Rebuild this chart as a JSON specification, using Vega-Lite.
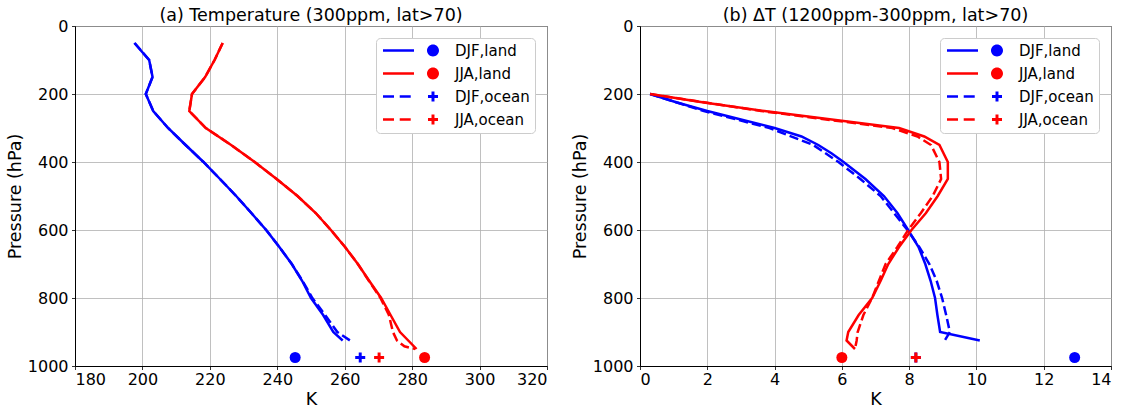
{
  "$schema": "https://vega.github.io/schema/vega-lite/v6.json",
  "padding": {"left": 5, "top": 6, "right": 5, "bottom": 0},
  "bounds": "flush",
  "spacing": 93,
  "resolve": {"scale": {"color": "independent", "shape": "independent"}, "legend": {"color": "independent", "shape": "independent"}},
  "config": {
    "font": "DejaVu Sans",
    "view": {"stroke": "black", "strokeWidth": 1},
    "axis": {"grid": true, "gridColor": "#b0b0b0", "gridWidth": 0.8, "domainColor": "black", "tickColor": "black", "tickSize": 3.5, "tickWidth": 0.8, "labelFontSize": 16, "labelColor": "black", "titleFontSize": 17.5, "titleFontWeight": "normal", "titleColor": "black", "labelPadding": 3.5, "labelFont": "DejaVu Sans", "titleFont": "DejaVu Sans", "titlePadding": 3, "format": "d"},
    "axisX": {"labelPadding": 2, "titlePadding": 3},
    "title": {"fontSize": 17.5, "fontWeight": "normal", "font": "DejaVu Sans", "color": "black", "offset": -6},
    "line": {"strokeWidth": 2.5},
    "point": {"filled": true, "opacity": 1, "size": 121},
    "legend": {"orient": "top-right", "offset": 12, "padding": 5, "fillColor": "white", "strokeColor": "#cccccc", "cornerRadius": 4, "labelFontSize": 15, "labelColor": "black", "labelFont": "DejaVu Sans", "labelOffset": 59, "rowPadding": 7, "symbolSize": 121, "symbolStrokeWidth": 0, "symbolOpacity": 1}
  },
  "datasets": {
    "profiles": [
      {"panel":"a","series":"DJF,land","p":50,"value":197.6},{"panel":"a","series":"DJF,land","p":100,"value":202},{"panel":"a","series":"DJF,land","p":150,"value":203},{"panel":"a","series":"DJF,land","p":200,"value":201},{"panel":"a","series":"DJF,land","p":250,"value":203.2},{"panel":"a","series":"DJF,land","p":300,"value":207.6},{"panel":"a","series":"DJF,land","p":350,"value":212.8},{"panel":"a","series":"DJF,land","p":400,"value":218.1},{"panel":"a","series":"DJF,land","p":450,"value":223},{"panel":"a","series":"DJF,land","p":500,"value":227.8},{"panel":"a","series":"DJF,land","p":550,"value":232.3},{"panel":"a","series":"DJF,land","p":600,"value":236.7},{"panel":"a","series":"DJF,land","p":650,"value":240.6},{"panel":"a","series":"DJF,land","p":700,"value":244.3},{"panel":"a","series":"DJF,land","p":750,"value":247.4},{"panel":"a","series":"DJF,land","p":800,"value":250},{"panel":"a","series":"DJF,land","p":850,"value":253.6},{"panel":"a","series":"DJF,land","p":900,"value":256.6},{"panel":"a","series":"DJF,land","p":925,"value":259.4},
      {"panel":"a","series":"JJA,land","p":50,"value":223.8},{"panel":"a","series":"JJA,land","p":100,"value":221.4},{"panel":"a","series":"JJA,land","p":150,"value":218.6},{"panel":"a","series":"JJA,land","p":200,"value":214.7},{"panel":"a","series":"JJA,land","p":250,"value":213.9},{"panel":"a","series":"JJA,land","p":300,"value":218.8},{"panel":"a","series":"JJA,land","p":350,"value":226.3},{"panel":"a","series":"JJA,land","p":400,"value":233.3},{"panel":"a","series":"JJA,land","p":450,"value":239.8},{"panel":"a","series":"JJA,land","p":500,"value":246},{"panel":"a","series":"JJA,land","p":550,"value":251.4},{"panel":"a","series":"JJA,land","p":600,"value":255.9},{"panel":"a","series":"JJA,land","p":650,"value":260.1},{"panel":"a","series":"JJA,land","p":700,"value":263.9},{"panel":"a","series":"JJA,land","p":750,"value":267.3},{"panel":"a","series":"JJA,land","p":800,"value":270.8},{"panel":"a","series":"JJA,land","p":850,"value":273.6},{"panel":"a","series":"JJA,land","p":900,"value":276.4},{"panel":"a","series":"JJA,land","p":950,"value":281.3},
      {"panel":"a","series":"DJF,ocean","p":50,"value":197.7},{"panel":"a","series":"DJF,ocean","p":100,"value":202},{"panel":"a","series":"DJF,ocean","p":150,"value":203},{"panel":"a","series":"DJF,ocean","p":200,"value":201},{"panel":"a","series":"DJF,ocean","p":250,"value":203.2},{"panel":"a","series":"DJF,ocean","p":300,"value":207.6},{"panel":"a","series":"DJF,ocean","p":350,"value":212.8},{"panel":"a","series":"DJF,ocean","p":400,"value":218.1},{"panel":"a","series":"DJF,ocean","p":450,"value":223},{"panel":"a","series":"DJF,ocean","p":500,"value":227.8},{"panel":"a","series":"DJF,ocean","p":550,"value":232.3},{"panel":"a","series":"DJF,ocean","p":600,"value":236.7},{"panel":"a","series":"DJF,ocean","p":650,"value":240.6},{"panel":"a","series":"DJF,ocean","p":700,"value":244.3},{"panel":"a","series":"DJF,ocean","p":750,"value":247.5},{"panel":"a","series":"DJF,ocean","p":800,"value":250.4},{"panel":"a","series":"DJF,ocean","p":850,"value":254.2},{"panel":"a","series":"DJF,ocean","p":900,"value":257.8},{"panel":"a","series":"DJF,ocean","p":925,"value":261.6},
      {"panel":"a","series":"JJA,ocean","p":50,"value":223.8},{"panel":"a","series":"JJA,ocean","p":100,"value":221.4},{"panel":"a","series":"JJA,ocean","p":150,"value":218.6},{"panel":"a","series":"JJA,ocean","p":200,"value":214.7},{"panel":"a","series":"JJA,ocean","p":250,"value":213.9},{"panel":"a","series":"JJA,ocean","p":300,"value":218.8},{"panel":"a","series":"JJA,ocean","p":350,"value":226.3},{"panel":"a","series":"JJA,ocean","p":400,"value":233.3},{"panel":"a","series":"JJA,ocean","p":450,"value":239.8},{"panel":"a","series":"JJA,ocean","p":500,"value":246},{"panel":"a","series":"JJA,ocean","p":550,"value":251.4},{"panel":"a","series":"JJA,ocean","p":600,"value":255.9},{"panel":"a","series":"JJA,ocean","p":650,"value":260.1},{"panel":"a","series":"JJA,ocean","p":700,"value":263.9},{"panel":"a","series":"JJA,ocean","p":750,"value":267.2},{"panel":"a","series":"JJA,ocean","p":800,"value":270.6},{"panel":"a","series":"JJA,ocean","p":850,"value":273.1},{"panel":"a","series":"JJA,ocean","p":900,"value":274.3},{"panel":"a","series":"JJA,ocean","p":925,"value":275.5},{"panel":"a","series":"JJA,ocean","p":942,"value":277.7},{"panel":"a","series":"JJA,ocean","p":950,"value":280.9},
      {"panel":"b","series":"DJF,land","p":200,"value":0.3},{"panel":"b","series":"DJF,land","p":225,"value":1.1},{"panel":"b","series":"DJF,land","p":250,"value":2.0},{"panel":"b","series":"DJF,land","p":275,"value":3.0},{"panel":"b","series":"DJF,land","p":300,"value":4.0},{"panel":"b","series":"DJF,land","p":325,"value":4.8},{"panel":"b","series":"DJF,land","p":350,"value":5.3},{"panel":"b","series":"DJF,land","p":375,"value":5.7},{"panel":"b","series":"DJF,land","p":400,"value":6.05},{"panel":"b","series":"DJF,land","p":450,"value":6.7},{"panel":"b","series":"DJF,land","p":500,"value":7.25},{"panel":"b","series":"DJF,land","p":550,"value":7.65},{"panel":"b","series":"DJF,land","p":600,"value":7.97},{"panel":"b","series":"DJF,land","p":650,"value":8.28},{"panel":"b","series":"DJF,land","p":700,"value":8.48},{"panel":"b","series":"DJF,land","p":750,"value":8.64},{"panel":"b","series":"DJF,land","p":800,"value":8.77},{"panel":"b","series":"DJF,land","p":850,"value":8.84},{"panel":"b","series":"DJF,land","p":900,"value":8.92},{"panel":"b","series":"DJF,land","p":925,"value":10.1},
      {"panel":"b","series":"JJA,land","p":200,"value":0.3},{"panel":"b","series":"JJA,land","p":225,"value":1.9},{"panel":"b","series":"JJA,land","p":250,"value":3.7},{"panel":"b","series":"JJA,land","p":275,"value":5.7},{"panel":"b","series":"JJA,land","p":300,"value":7.7},{"panel":"b","series":"JJA,land","p":325,"value":8.45},{"panel":"b","series":"JJA,land","p":350,"value":8.9},{"panel":"b","series":"JJA,land","p":400,"value":9.15},{"panel":"b","series":"JJA,land","p":450,"value":9.15},{"panel":"b","series":"JJA,land","p":500,"value":8.85},{"panel":"b","series":"JJA,land","p":550,"value":8.5},{"panel":"b","series":"JJA,land","p":600,"value":8.07},{"panel":"b","series":"JJA,land","p":650,"value":7.7},{"panel":"b","series":"JJA,land","p":700,"value":7.38},{"panel":"b","series":"JJA,land","p":750,"value":7.15},{"panel":"b","series":"JJA,land","p":800,"value":6.9},{"panel":"b","series":"JJA,land","p":850,"value":6.5},{"panel":"b","series":"JJA,land","p":900,"value":6.19},{"panel":"b","series":"JJA,land","p":925,"value":6.14},{"panel":"b","series":"JJA,land","p":950,"value":6.39},
      {"panel":"b","series":"DJF,ocean","p":200,"value":0.3},{"panel":"b","series":"DJF,ocean","p":250,"value":1.9},{"panel":"b","series":"DJF,ocean","p":300,"value":3.85},{"panel":"b","series":"DJF,ocean","p":350,"value":5.15},{"panel":"b","series":"DJF,ocean","p":400,"value":5.9},{"panel":"b","series":"DJF,ocean","p":450,"value":6.55},{"panel":"b","series":"DJF,ocean","p":500,"value":7.15},{"panel":"b","series":"DJF,ocean","p":550,"value":7.55},{"panel":"b","series":"DJF,ocean","p":600,"value":7.95},{"panel":"b","series":"DJF,ocean","p":650,"value":8.3},{"panel":"b","series":"DJF,ocean","p":700,"value":8.6},{"panel":"b","series":"DJF,ocean","p":750,"value":8.82},{"panel":"b","series":"DJF,ocean","p":800,"value":8.98},{"panel":"b","series":"DJF,ocean","p":850,"value":9.1},{"panel":"b","series":"DJF,ocean","p":900,"value":9.21},{"panel":"b","series":"DJF,ocean","p":925,"value":9.06},
      {"panel":"b","series":"JJA,ocean","p":200,"value":0.3},{"panel":"b","series":"JJA,ocean","p":250,"value":3.6},{"panel":"b","series":"JJA,ocean","p":300,"value":7.5},{"panel":"b","series":"JJA,ocean","p":325,"value":8.25},{"panel":"b","series":"JJA,ocean","p":350,"value":8.65},{"panel":"b","series":"JJA,ocean","p":400,"value":8.9},{"panel":"b","series":"JJA,ocean","p":450,"value":8.95},{"panel":"b","series":"JJA,ocean","p":500,"value":8.7},{"panel":"b","series":"JJA,ocean","p":550,"value":8.35},{"panel":"b","series":"JJA,ocean","p":600,"value":7.97},{"panel":"b","series":"JJA,ocean","p":650,"value":7.65},{"panel":"b","series":"JJA,ocean","p":700,"value":7.3},{"panel":"b","series":"JJA,ocean","p":750,"value":7.1},{"panel":"b","series":"JJA,ocean","p":800,"value":6.9},{"panel":"b","series":"JJA,ocean","p":850,"value":6.64},{"panel":"b","series":"JJA,ocean","p":900,"value":6.47},{"panel":"b","series":"JJA,ocean","p":925,"value":6.44},{"panel":"b","series":"JJA,ocean","p":950,"value":6.39}
    ],
    "markers": [
      {"panel":"a","series":"DJF,land","p":975,"value":245.3},
      {"panel":"a","series":"JJA,land","p":975,"value":283.7},
      {"panel":"a","series":"DJF,ocean","p":975,"value":264.6},
      {"panel":"a","series":"JJA,ocean","p":975,"value":270.2},
      {"panel":"b","series":"DJF,land","p":975,"value":12.92},
      {"panel":"b","series":"JJA,land","p":975,"value":6.0},
      {"panel":"b","series":"DJF,ocean","p":975,"value":8.2},
      {"panel":"b","series":"JJA,ocean","p":975,"value":8.2}
    ]
  },
  "hconcat": [
    {
      "width": 472, "height": 340,
      "title": "(a) Temperature (300ppm, lat>70)",
      "data": {"name": "profiles"},
      "encoding": {
        "x": {"field": "value", "type": "quantitative", "scale": {"domain": [180, 320], "nice": false, "zero": false}, "axis": {"title": "K", "values": [180, 200, 220, 240, 260, 280, 300, 320]}},
        "y": {"field": "p", "type": "quantitative", "scale": {"domain": [0, 1000], "reverse": true, "nice": false, "zero": false}, "axis": {"title": "Pressure (hPa)", "values": [0, 200, 400, 600, 800, 1000]}}
      },
      "layer": [
        {"transform": [{"filter": "datum.panel == 'a' && datum.series == 'DJF,land'"}], "mark": {"type": "line", "color": "#0000ff"}, "encoding": {"order": {"field": "p", "type": "quantitative"}}},
        {"transform": [{"filter": "datum.panel == 'a' && datum.series == 'JJA,land'"}], "mark": {"type": "line", "color": "#ff0000"}, "encoding": {"order": {"field": "p", "type": "quantitative"}}},
        {"transform": [{"filter": "datum.panel == 'a' && datum.series == 'DJF,ocean'"}], "mark": {"type": "line", "color": "#0000ff", "strokeDash": [9.25, 4]}, "encoding": {"order": {"field": "p", "type": "quantitative"}}},
        {"transform": [{"filter": "datum.panel == 'a' && datum.series == 'JJA,ocean'"}], "mark": {"type": "line", "color": "#ff0000", "strokeDash": [9.25, 4]}, "encoding": {"order": {"field": "p", "type": "quantitative"}}},
        {"data": {"name": "markers"}, "transform": [{"filter": "datum.panel == 'a' && datum.series == 'DJF,land'"}], "mark": {"type": "point", "shape": "circle", "color": "#0000ff"}},
        {"data": {"name": "markers"}, "transform": [{"filter": "datum.panel == 'a' && datum.series == 'JJA,land'"}], "mark": {"type": "point", "shape": "circle", "color": "#ff0000"}},
        {"data": {"name": "markers"}, "transform": [{"filter": "datum.panel == 'a' && datum.series == 'DJF,ocean'"}], "mark": {"type": "point", "shape": "M-0.91,-0.27H-0.27V-0.91H0.27V-0.27H0.91V0.27H0.27V0.91H-0.27V0.27H-0.91Z", "color": "#0000ff"}},
        {"data": {"name": "markers"}, "transform": [{"filter": "datum.panel == 'a' && datum.series == 'JJA,ocean'"}], "mark": {"type": "point", "shape": "M-0.91,-0.27H-0.27V-0.91H0.27V-0.27H0.91V0.27H0.27V0.91H-0.27V0.27H-0.91Z", "color": "#ff0000"}},
        {
          "data": {"name": "markers"},
          "transform": [{"filter": "false"}],
          "mark": {"type": "point"},
          "encoding": {
            "color": {"field": "series", "type": "nominal", "scale": {"domain": ["DJF,land", "JJA,land", "DJF,ocean", "JJA,ocean"], "range": ["#0000ff", "#ff0000", "#0000ff", "#ff0000"]}, "legend": {"title": null}},
            "shape": {"field": "series", "type": "nominal", "scale": {"domain": ["DJF,land", "JJA,land", "DJF,ocean", "JJA,ocean"], "range": ["M-1,-0.23H4.64V0.23H-1Z M9.18,0A1.09,1.09,0,1,0,7,0A1.09,1.09,0,1,0,9.18,0Z", "M-1,-0.23H4.64V0.23H-1Z M9.18,0A1.09,1.09,0,1,0,7,0A1.09,1.09,0,1,0,9.18,0Z", "M-1,-0.23H1V0.23H-1Z M2.04,-0.23H4.04V0.23H2.04Z M7.18,-0.27H7.82V-0.91H8.36V-0.27H9V0.27H8.36V0.91H7.82V0.27H7.18Z", "M-1,-0.23H1V0.23H-1Z M2.04,-0.23H4.04V0.23H2.04Z M7.18,-0.27H7.82V-0.91H8.36V-0.27H9V0.27H8.36V0.91H7.82V0.27H7.18Z"]}, "legend": {"title": null}}
          }
        }
      ]
    },
    {
      "width": 471, "height": 340,
      "title": "(b) ΔT (1200ppm-300ppm, lat>70)",
      "data": {"name": "profiles"},
      "encoding": {
        "x": {"field": "value", "type": "quantitative", "scale": {"domain": [0, 14], "nice": false, "zero": false}, "axis": {"title": "K", "values": [0, 2, 4, 6, 8, 10, 12, 14]}},
        "y": {"field": "p", "type": "quantitative", "scale": {"domain": [0, 1000], "reverse": true, "nice": false, "zero": false}, "axis": {"title": "Pressure (hPa)", "values": [0, 200, 400, 600, 800, 1000]}}
      },
      "layer": [
        {"transform": [{"filter": "datum.panel == 'b' && datum.series == 'DJF,land'"}], "mark": {"type": "line", "color": "#0000ff"}, "encoding": {"order": {"field": "p", "type": "quantitative"}}},
        {"transform": [{"filter": "datum.panel == 'b' && datum.series == 'JJA,land'"}], "mark": {"type": "line", "color": "#ff0000"}, "encoding": {"order": {"field": "p", "type": "quantitative"}}},
        {"transform": [{"filter": "datum.panel == 'b' && datum.series == 'DJF,ocean'"}], "mark": {"type": "line", "color": "#0000ff", "strokeDash": [9.25, 4]}, "encoding": {"order": {"field": "p", "type": "quantitative"}}},
        {"transform": [{"filter": "datum.panel == 'b' && datum.series == 'JJA,ocean'"}], "mark": {"type": "line", "color": "#ff0000", "strokeDash": [9.25, 4]}, "encoding": {"order": {"field": "p", "type": "quantitative"}}},
        {"data": {"name": "markers"}, "transform": [{"filter": "datum.panel == 'b' && datum.series == 'DJF,land'"}], "mark": {"type": "point", "shape": "circle", "color": "#0000ff"}},
        {"data": {"name": "markers"}, "transform": [{"filter": "datum.panel == 'b' && datum.series == 'JJA,land'"}], "mark": {"type": "point", "shape": "circle", "color": "#ff0000"}},
        {"data": {"name": "markers"}, "transform": [{"filter": "datum.panel == 'b' && datum.series == 'DJF,ocean'"}], "mark": {"type": "point", "shape": "M-0.91,-0.27H-0.27V-0.91H0.27V-0.27H0.91V0.27H0.27V0.91H-0.27V0.27H-0.91Z", "color": "#0000ff"}},
        {"data": {"name": "markers"}, "transform": [{"filter": "datum.panel == 'b' && datum.series == 'JJA,ocean'"}], "mark": {"type": "point", "shape": "M-0.91,-0.27H-0.27V-0.91H0.27V-0.27H0.91V0.27H0.27V0.91H-0.27V0.27H-0.91Z", "color": "#ff0000"}},
        {
          "data": {"name": "markers"},
          "transform": [{"filter": "false"}],
          "mark": {"type": "point"},
          "encoding": {
            "color": {"field": "series", "type": "nominal", "scale": {"domain": ["DJF,land", "JJA,land", "DJF,ocean", "JJA,ocean"], "range": ["#0000ff", "#ff0000", "#0000ff", "#ff0000"]}, "legend": {"title": null}},
            "shape": {"field": "series", "type": "nominal", "scale": {"domain": ["DJF,land", "JJA,land", "DJF,ocean", "JJA,ocean"], "range": ["M-1,-0.23H4.64V0.23H-1Z M9.18,0A1.09,1.09,0,1,0,7,0A1.09,1.09,0,1,0,9.18,0Z", "M-1,-0.23H4.64V0.23H-1Z M9.18,0A1.09,1.09,0,1,0,7,0A1.09,1.09,0,1,0,9.18,0Z", "M-1,-0.23H1V0.23H-1Z M2.04,-0.23H4.04V0.23H2.04Z M7.18,-0.27H7.82V-0.91H8.36V-0.27H9V0.27H8.36V0.91H7.82V0.27H7.18Z", "M-1,-0.23H1V0.23H-1Z M2.04,-0.23H4.04V0.23H2.04Z M7.18,-0.27H7.82V-0.91H8.36V-0.27H9V0.27H8.36V0.91H7.82V0.27H7.18Z"]}, "legend": {"title": null}}
          }
        }
      ]
    }
  ]
}
